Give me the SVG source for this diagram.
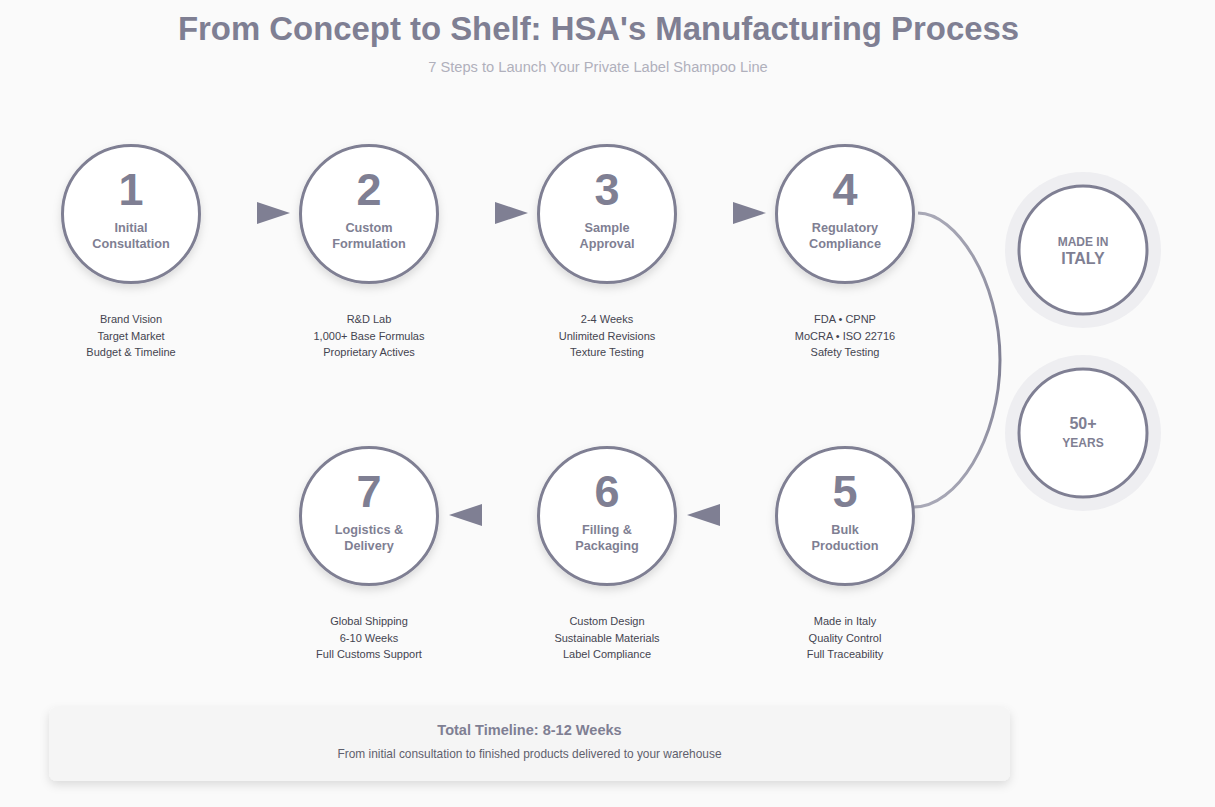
<svg xmlns="http://www.w3.org/2000/svg" width="1215" height="807" viewBox="0 0 1215 807">
<style>
text{font-family:"Liberation Sans",Arial,sans-serif;text-anchor:middle}
.c{fill:#fff;stroke:#7f7f93;stroke-width:3;filter:url(#sh)}
.b{fill:#fff;stroke:#7f7f93;stroke-width:3}
.h{fill:#eeeef1}
.n{font-size:45px;font-weight:700;fill:#7f7f93}
.l{font-size:12.7px;font-weight:700;fill:#7f7f93}
.d{font-size:11px;fill:#444450}
.a{fill:#7f7f93}
</style>
<defs>
<filter id="sh" x="-30%" y="-30%" width="160%" height="170%"><feDropShadow dx="0" dy="4" stdDeviation="4" flood-color="#000" flood-opacity="0.13"/></filter>
<filter id="bs" x="-5%" y="-30%" width="110%" height="170%"><feDropShadow dx="0" dy="4" stdDeviation="5" flood-color="#000" flood-opacity="0.12"/></filter>
<linearGradient id="g" x1="0" y1="0" x2="0" y2="1"><stop offset="0" stop-color="#a9a9b7"/><stop offset="0.5" stop-color="#7f7f93"/><stop offset="1" stop-color="#a9a9b7"/></linearGradient>
</defs>
<rect width="1215" height="807" fill="#fafafa"/>
<text x="598.500" y="40" font-size="32.9px" font-weight="700" fill="#7f7f93">From Concept to Shelf: HSA's Manufacturing Process</text>
<text x="598" y="72" font-size="14.65px" fill="#b0b0bc">7 Steps to Launch Your Private Label Shampoo Line</text>
<g id="connectors">
<polygon class="a" points="257,202 290,213 257,224"/>
<polygon class="a" points="495,202 528,213 495,224"/>
<polygon class="a" points="733,202 766,213 733,224"/>
<path d="M918 213C956 213 1000 280 1000 360C1000 440 956 507 914 507" fill="none" stroke="url(#g)" stroke-width="3"/>
<polygon class="a" points="720,504 687,515 720,526"/>
<polygon class="a" points="482,504 449,515 482,526"/>
</g>
<g id="step1"><circle class="c" cx="131" cy="214" r="68.5"/><text class="n" x="131" y="204.500">1</text><text class="l" x="131" y="231.500">Initial</text><text class="l" x="131" y="247.500">Consultation</text><text class="d" x="131" y="323">Brand Vision</text><text class="d" x="131" y="340">Target Market</text><text class="d" x="131" y="356">Budget &amp; Timeline</text></g>
<g id="step2"><circle class="c" cx="369" cy="214" r="68.5"/><text class="n" x="369" y="204.500">2</text><text class="l" x="369" y="231.500">Custom</text><text class="l" x="369" y="247.500">Formulation</text><text class="d" x="369" y="323">R&amp;D Lab</text><text class="d" x="369" y="340">1,000+ Base Formulas</text><text class="d" x="369" y="356">Proprietary Actives</text></g>
<g id="step3"><circle class="c" cx="607" cy="214" r="68.5"/><text class="n" x="607" y="204.500">3</text><text class="l" x="607" y="231.500">Sample</text><text class="l" x="607" y="247.500">Approval</text><text class="d" x="607" y="323">2-4 Weeks</text><text class="d" x="607" y="340">Unlimited Revisions</text><text class="d" x="607" y="356">Texture Testing</text></g>
<g id="step4"><circle class="c" cx="845" cy="214" r="68.5"/><text class="n" x="845" y="204.500">4</text><text class="l" x="845" y="231.500">Regulatory</text><text class="l" x="845" y="247.500">Compliance</text><text class="d" x="845" y="323">FDA • CPNP</text><text class="d" x="845" y="340">MoCRA • ISO 22716</text><text class="d" x="845" y="356">Safety Testing</text></g>
<g id="step5"><circle class="c" cx="845" cy="516" r="68.5"/><text class="n" x="845" y="506.500">5</text><text class="l" x="845" y="533.500">Bulk</text><text class="l" x="845" y="549.500">Production</text><text class="d" x="845" y="625">Made in Italy</text><text class="d" x="845" y="642">Quality Control</text><text class="d" x="845" y="658">Full Traceability</text></g>
<g id="step6"><circle class="c" cx="607" cy="516" r="68.5"/><text class="n" x="607" y="506.500">6</text><text class="l" x="607" y="533.500">Filling &amp;</text><text class="l" x="607" y="549.500">Packaging</text><text class="d" x="607" y="625">Custom Design</text><text class="d" x="607" y="642">Sustainable Materials</text><text class="d" x="607" y="658">Label Compliance</text></g>
<g id="step7"><circle class="c" cx="369" cy="516" r="68.5"/><text class="n" x="369" y="506.500">7</text><text class="l" x="369" y="533.500">Logistics &amp;</text><text class="l" x="369" y="549.500">Delivery</text><text class="d" x="369" y="625">Global Shipping</text><text class="d" x="369" y="642">6-10 Weeks</text><text class="d" x="369" y="658">Full Customs Support</text></g>
<g id="badge-italy"><circle class="h" cx="1083" cy="250" r="78"/><circle class="b" cx="1083" cy="250" r="64"/><text x="1083" y="246" font-size="12px" font-weight="700" fill="#7f7f93">MADE IN</text><text x="1083" y="264" font-size="16px" font-weight="700" fill="#7f7f93">ITALY</text></g>
<g id="badge-years"><circle class="h" cx="1083" cy="433" r="78"/><circle class="b" cx="1083" cy="433" r="64"/><text x="1083" y="429" font-size="16px" font-weight="700" fill="#7f7f93">50+</text><text x="1083" y="447" font-size="12px" font-weight="700" fill="#7f7f93">YEARS</text></g>
<g id="timeline"><rect x="49" y="707" width="961" height="74" rx="8" fill="#f5f5f5" filter="url(#bs)"/><text x="529.500" y="735" font-size="14.55px" font-weight="700" fill="#7f7f93">Total Timeline: 8-12 Weeks</text><text x="529.500" y="758" font-size="11.9px" fill="#5f5f6d">From initial consultation to finished products delivered to your warehouse</text></g>
</svg>
